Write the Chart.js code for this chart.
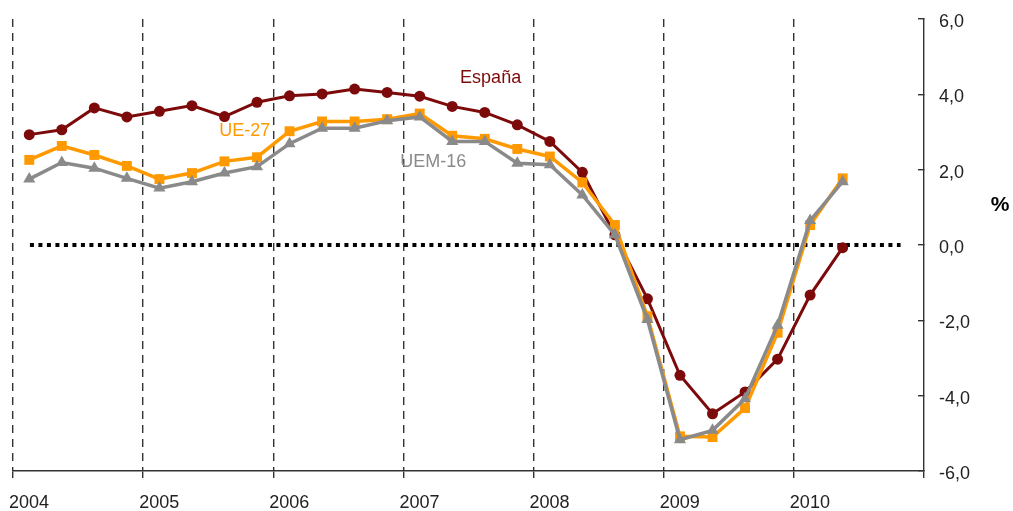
<!DOCTYPE html>
<html>
<head>
<meta charset="utf-8">
<script src="https://cdn.jsdelivr.net/npm/chart.js@4/dist/chart.umd.min.js"></script>
<style>
  html, body { margin: 0; padding: 0; background: #fff; }
  #wrap { width: 1013px; height: 511px; position: relative; }
</style>
</head>
<body>
<div id="wrap"><canvas id="c" width="1013" height="511"></canvas></div>
<script>
// ---- Data ----
const years = [2004, 2005, 2006, 2007, 2008, 2009, 2010];
const quarters = [
  '2004-T1','2004-T2','2004-T3','2004-T4',
  '2005-T1','2005-T2','2005-T3','2005-T4',
  '2006-T1','2006-T2','2006-T3','2006-T4',
  '2007-T1','2007-T2','2007-T3','2007-T4',
  '2008-T1','2008-T2','2008-T3','2008-T4',
  '2009-T1','2009-T2','2009-T3','2009-T4',
  '2010-T1','2010-T2'
];
const espana = [2.93, 3.06, 3.64, 3.40, 3.55, 3.70, 3.41, 3.79, 3.96, 4.01, 4.14, 4.05,
                3.95, 3.68, 3.52, 3.19, 2.75, 1.93, 0.27, -1.43, -3.46, -4.48, -3.90, -3.03,
                -1.33, -0.07];
const ue27 = [2.26, 2.63, 2.39, 2.10, 1.75, 1.91, 2.22, 2.33, 3.02, 3.28, 3.28, 3.34,
              3.49, 2.90, 2.82, 2.55, 2.35, 1.66, 0.53, -1.89, -5.08, -5.10, -4.33, -2.33,
              0.53, 1.77];
const uem16 = [1.75, 2.19, 2.04, 1.77, 1.51, 1.68, 1.91, 2.08, 2.69, 3.10, 3.10, 3.30,
               3.40, 2.75, 2.75, 2.17, 2.13, 1.33, 0.27, -1.98, -5.17, -4.92, -4.08, -2.13,
               0.65, 1.68];
const yTicks = [-6, -4, -2, 0, 2, 4, 6];
const zeroLine = [{x: 2004.13, y: 0}, {x: 2010.82, y: 0}];

// quarter label -> position on the year axis (middle of the quarter)
function qx(label) {
  const [y, q] = label.split('-T');
  return Number(y) + (Number(q) - 0.5) / 4;
}
function toPoints(values) {
  return values.map((v, i) => ({x: qx(quarters[i]), y: v}));
}

const COL_ES = '#7d0a0a';
const COL_UE = '#ff9900';
const COL_UEM = '#8a8a8a';

// series name labels (anchored in data coordinates)
const seriesLabels = [
  {text: 'España', x: 2007.67, y: 4.44, color: COL_ES},
  {text: 'UE-27', x: 2005.78, y: 3.03, color: COL_UE},
  {text: 'UEM-16', x: 2007.23, y: 2.20, color: COL_UEM}
];

const FONT = '"Liberation Sans", Arial, Helvetica, sans-serif';

const annotations = {
  id: 'annotations',
  afterDatasetsDraw(chart) {
    const {ctx, scales: {x, y}} = chart;
    ctx.save();
    ctx.font = '18px ' + FONT;
    ctx.textAlign = 'center';
    ctx.textBaseline = 'middle';
    seriesLabels.forEach(l => {
      ctx.fillStyle = l.color;
      ctx.fillText(l.text, x.getPixelForValue(l.x), y.getPixelForValue(l.y));
    });
    ctx.fillStyle = '#000';
    ctx.font = 'bold 21px ' + FONT;
    ctx.fillText('%', 1000, y.getPixelForValue(1.05));
    ctx.restore();
  }
};

new Chart(document.getElementById('c'), {
  type: 'line',
  data: {
    datasets: [
      {
        label: 'UEM-16', data: toPoints(uem16), order: 1,
        borderColor: COL_UEM, backgroundColor: COL_UEM, borderWidth: 3.5,
        pointStyle: 'triangle', pointRadius: 7, pointBorderWidth: 0, tension: 0
      },
      {
        label: 'UE-27', data: toPoints(ue27), order: 2,
        borderColor: COL_UE, backgroundColor: COL_UE, borderWidth: 3.5,
        pointStyle: 'rect', pointRadius: 7, pointBorderWidth: 0, tension: 0
      },
      {
        label: 'España', data: toPoints(espana), order: 3,
        borderColor: COL_ES, backgroundColor: COL_ES, borderWidth: 3,
        pointStyle: 'circle', pointRadius: 5.5, pointBorderWidth: 0, tension: 0
      },
      {
        label: 'cero', data: zeroLine, order: 4,
        borderColor: '#000', borderWidth: 3.8, borderDash: [4, 4.5], borderCapStyle: 'butt',
        pointRadius: 0, tension: 0
      }
    ]
  },
  options: {
    responsive: false,
    animation: false,
    events: [],
    layout: {padding: {left: 13, top: 19, right: 0, bottom: 0}},
    plugins: {legend: {display: false}, tooltip: {enabled: false}},
    scales: {
      x: {
        type: 'linear',
        position: 'bottom',
        min: years[0],
        max: years[years.length - 1] + 1,
        afterBuildTicks: (scale) => {
          scale.ticks = years.concat([years[years.length - 1] + 1]).map(v => ({value: v}));
        },
        afterFit: (scale) => {
          scale.height = 40;
          scale.paddingLeft = 0; scale.paddingRight = 0;
        },
        ticks: {
          align: 'start',
          labelOffset: -4,
          padding: 14,
          maxRotation: 0,
          autoSkip: false,
          color: '#222',
          font: {family: FONT, size: 18},
          callback: (v) => (years.includes(v) ? String(v) : '')
        },
        grid: {
          drawOnChartArea: true,
          color: (ctx) => (ctx.tick && ctx.tick.value === years[years.length - 1] + 1 ? 'rgba(0,0,0,0)' : '#333'),
          lineWidth: 1.4,
          tickColor: '#333',
          tickLength: 7,
          tickWidth: 1.4,
          tickBorderDash: []
        },
        border: {display: true, color: '#333', width: 1.4, dash: [8, 6]}
      },
      y: {
        type: 'linear',
        position: 'right',
        min: -6,
        max: 6,
        afterBuildTicks: (scale) => { scale.ticks = yTicks.map(v => ({value: v})); },
        afterFit: (scale) => {
          scale.width = 89;
          scale.paddingTop = 0; scale.paddingBottom = 0;
        },
        ticks: {
          padding: 21,
          labelOffset: 3,
          color: '#222',
          font: {family: FONT, size: 18},
          callback: (v) => v.toFixed(1).replace('.', ',')
        },
        grid: {
          drawOnChartArea: false,
          drawTicks: true,
          tickLength: -6,
          color: '#333',
          lineWidth: 1.4
        },
        border: {display: true, color: '#333', width: 1.4}
      }
    }
  },
  plugins: [annotations]
});
</script>
</body>
</html>
